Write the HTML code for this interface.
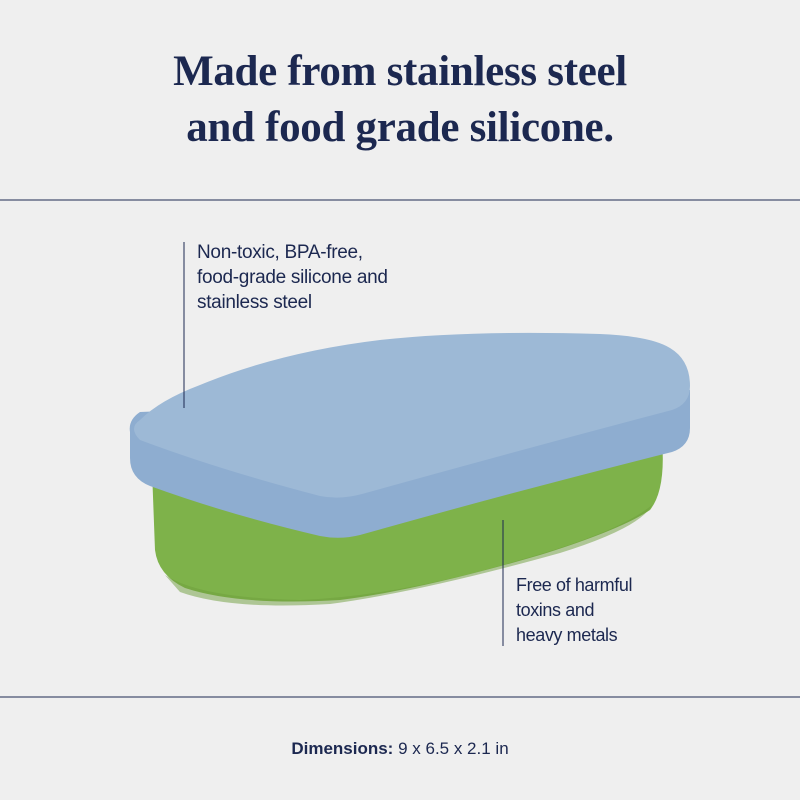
<!DOCTYPE html>
<html><head><style>
body{margin:0;background:#efefef;}
.wrap{position:relative;width:800px;height:800px;overflow:hidden;background:#efefef;font-family:"Liberation Sans",sans-serif;color:#1c2850;}
h1{position:absolute;top:44px;left:0;width:800px;margin:0;text-align:center;font-family:"Liberation Serif",serif;font-weight:bold;font-size:43px;line-height:56px;color:#1c2850;letter-spacing:-0.3px;}
.t{position:absolute;font-size:18px;line-height:25px;letter-spacing:-0.4px;color:#1c2850;}
.dim{position:absolute;top:739px;left:0;width:800px;text-align:center;font-size:17px;color:#1c2850;}
</style></head><body><div class="wrap">
<h1>Made from stainless steel<br>and food grade silicone.</h1>
<svg width="800" height="800" style="position:absolute;left:0;top:0">
<line x1="0" y1="200" x2="800" y2="200" stroke="#1c2850" stroke-width="1"/>
<line x1="0" y1="697" x2="800" y2="697" stroke="#1c2850" stroke-width="1"/>
<path d="M152,470 L662,440 Q666,490 650,510 Q620,530 540,555 Q420,590 340,600 Q240,606 185,588 Q158,575 155,550 Z" fill="#7eb24a"/>
<path d="M165,575 Q200,598 300,600 Q400,596 520,560 Q620,532 652,505 Q640,528 560,553 Q420,592 330,604 Q230,610 180,592 Z" fill="#6e9d3c" opacity="0.5"/>
<path d="M140,412 Q128,420 130,432 L130,458 Q130,478 150,486 Q230,515 320,536 Q340,540 360,535 Q520,490 672,452 Q690,446 690,428 L690,390 Z" fill="#8eadd0"/>
<path d="M140,420 Q128,428 140,440 Q220,470 320,496 Q340,500 362,494 Q520,450 672,410 Q690,404 690,386 Q690,360 670,348 Q650,336 600,334 Q470,330 380,340 Q280,352 200,385 Q160,400 140,420 Z" fill="#9db9d6"/>
<line x1="184" y1="242" x2="184" y2="408" stroke="#1c2850" stroke-width="1"/>
<line x1="503" y1="520" x2="503" y2="646" stroke="#1c2850" stroke-width="1"/>
</svg>
<div class="t" style="left:197px;top:240px;font-size:19px;letter-spacing:-0.3px">Non-toxic, BPA-free,<br>food-grade silicone and<br>stainless steel</div>
<div class="t" style="left:516px;top:573px">Free of harmful<br>toxins and<br>heavy metals</div>
<div class="dim"><b>Dimensions:</b> 9 x 6.5 x 2.1 in</div>
</div></body></html>
